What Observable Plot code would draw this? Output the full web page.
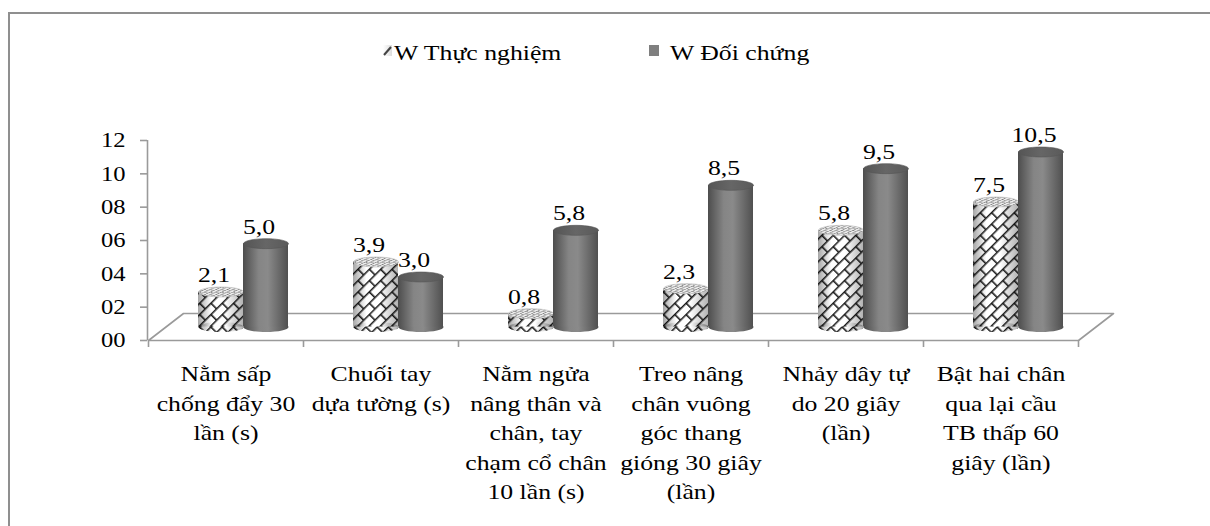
<!DOCTYPE html>
<html>
<head>
<meta charset="utf-8">
<script src="https://cdn.jsdelivr.net/npm/d3@7"></script>
<script src="https://cdn.jsdelivr.net/npm/@observablehq/plot@0.6"></script>
<style>
  html, body { margin: 0; padding: 0; background: #fff; }
  #wrap { position: relative; width: 1210px; height: 526px; overflow: hidden; font-family: 'Liberation Serif', serif; }
  #frame { position: absolute; left: 8px; top: 12px; width: 1400px; height: 700px; border-top: 2px solid #8f8f8f; border-left: 2px solid #8f8f8f; }
  #wrap svg { position: absolute; left: 0; top: 0; background: none; }
</style>
</head>
<body>
<div id="wrap"><div id="frame"></div></div>
<script>
// ---- data ----
const categories = [
  "Nằm sấp\nchống đẩy 30\nlần (s)",
  "Chuối tay\ndựa tường (s)",
  "Nằm ngửa\nnâng thân và\nchân, tay\nchạm cổ chân\n10 lần (s)",
  "Treo nâng\nchân vuông\ngóc thang\ngióng 30 giây\n(lần)",
  "Nhảy dây tự\ndo 20 giây\n(lần)",
  "Bật hai chân\nqua lại cầu\nTB thấp 60\ngiây (lần)"
];
const thucNghiem = [2.1, 3.9, 0.8, 2.3, 5.8, 7.5];
const doiChung = [5.0, 3.0, 5.8, 8.5, 9.5, 10.5];
const seriesNames = ["W Thực nghiệm", "W Đối chứng"];
const yTicks = [0, 2, 4, 6, 8, 10, 12];

// ---- layout constants ----
const X0 = 148, X1 = 1078, Y0 = 340, Y1 = 140;
const depth = [35, -27];
const half = [depth[0] / 2, depth[1] / 2];
const barPx = 45;
const textScale = 1.17;
const FONT = "Liberation Serif";

const xs = Plot.scale({x: {domain: [0, categories.length], range: [X0, X1]}});
const ys = Plot.scale({y: {domain: [0, 12], range: [Y0, Y1]}});
const barW = xs.invert(X0 + barPx) - 0;
const depthX = xs.invert(X0 + depth[0]) - 0;
const depthY = ys.invert(Y0 + depth[1]) - 0;

const rowsTN = categories.map((c, i) => ({i, c, v: thucNghiem[i]}));
const rowsDC = categories.map((c, i) => ({i, c, v: doiChung[i]}));
const fmt = v => v.toFixed(1).replace(".", ",");

const floor = [[0, 0], [categories.length, 0], [categories.length + depthX, depthY], [depthX, depthY], [0, 0]];

const ellipse = ry => ({
  draw(context, size) {
    const rx = Math.sqrt(size / Math.PI), k = 0.5523;
    context.moveTo(-rx, 0);
    context.bezierCurveTo(-rx, -ry * k, -rx * k, -ry, 0, -ry);
    context.bezierCurveTo(rx * k, -ry, rx, -ry * k, rx, 0);
    context.bezierCurveTo(rx, ry * k, rx * k, ry, 0, ry);
    context.bezierCurveTo(-rx * k, ry, -rx, ry * k, -rx, 0);
    context.closePath();
  }
});
const ell = ellipse(5);

function cylinder(rows, x1f, x2f, bodyFill, topFill, overlay) {
  const xc = d => (x1f(d) + x2f(d)) / 2;
  const common = {dx: half[0], dy: half[1]};
  const marks = [
    Plot.dot(rows, {x: xc, y: 0, r: barPx / 2, symbol: ell, fill: bodyFill, stroke: null, ...common}),
    Plot.rect(rows, {x1: x1f, x2: x2f, y1: 0, y2: d => d.v, fill: bodyFill, ...common})
  ];
  if (overlay) {
    marks.push(Plot.dot(rows, {x: xc, y: 0, r: barPx / 2, symbol: ell, fill: overlay, stroke: null, ...common}));
    marks.push(Plot.rect(rows, {x1: x1f, x2: x2f, y1: 0, y2: d => d.v, fill: overlay, ...common}));
  }
  marks.push(Plot.dot(rows, {x: xc, y: d => d.v, r: barPx / 2, symbol: ell, fill: topFill, stroke: overlay ? "#bbb" : "#555", strokeWidth: 0.6, ...common}));
  return marks;
}

const txt = {fontFamily: FONT, fill: "black"};

const chart = Plot.plot({
  width: 1210,
  height: 526,
  marginLeft: X0,
  marginRight: 1210 - X1,
  marginTop: Y1,
  marginBottom: 526 - Y0,
  style: {background: "none", overflow: "visible"},
  x: {domain: [0, categories.length], axis: null},
  y: {domain: [0, 12], axis: null},
  marks: [
    Plot.line(floor, {x: d => d[0], y: d => d[1], stroke: "#9a9a9a", strokeWidth: 1.6}),
    Plot.ruleX([0], {y1: 0, y2: 12, stroke: "#9a9a9a", strokeWidth: 1.6, dx: -1}),
    Plot.ruleY(yTicks, {x1: 0, x2: xs.invert(X0 - 7), stroke: "#9a9a9a", strokeWidth: 1.6, dx: -1}),
    Plot.text(yTicks, {x: 0, y: d => d, text: d => String(d).padStart(2, "0"), textAnchor: "end", dx: -23, fontSize: 21, ...txt}),
    Plot.ruleX(d3.range(categories.length + 1), {y1: 0, y2: ys.invert(Y0 + 7), stroke: "#9a9a9a", strokeWidth: 1.6}),
    Plot.text(categories.map((c, i) => ({c, i})), {x: d => d.i + 0.5, y: 0, text: d => d.c, lineAnchor: "top", lineHeight: 1.34, dy: 20, fontSize: 22, ...txt}),
    ...cylinder(rowsTN, d => d.i + 0.5 - barW, d => d.i + 0.5, "url(#hatch)", "url(#hatchTop)", "url(#shade)"),
    ...cylinder(rowsDC, d => d.i + 0.5, d => d.i + 0.5 + barW, "url(#grayBody)", "url(#grayTop)", null),
    Plot.text(rowsTN, {x: d => d.i + 0.5 - barW / 2, y: d => d.v, text: d => fmt(d.v), lineAnchor: "bottom", dx: half[0] - 7, dy: half[1] - 10, fontSize: 22, ...txt}),
    Plot.text(rowsDC, {x: d => d.i + 0.5 + barW / 2, y: d => d.v, text: d => fmt(d.v), lineAnchor: "bottom", dx: half[0] - 7, dy: half[1] - 10, fontSize: 22, ...txt})
  ]
});

const svg = d3.select(chart);
svg.attr("font-family", FONT);
const defs = svg.insert("defs", ":first-child");

const hp = defs.append("pattern").attr("id", "hatch").attr("patternUnits", "userSpaceOnUse")
  .attr("width", 16).attr("height", 16).attr("patternTransform", "rotate(-45)");
hp.append("rect").attr("width", 16).attr("height", 16).attr("fill", "#fff");
hp.append("path").attr("d", "M0,0.8H16 M0,8.8H16 M0.8,0V8 M8.8,8V16").attr("stroke", "#1a1a1a").attr("stroke-width", 1.6).attr("fill", "none");

const ht = defs.append("pattern").attr("id", "hatchTop").attr("patternUnits", "userSpaceOnUse")
  .attr("width", 8).attr("height", 8).attr("patternTransform", "scale(1,0.45) rotate(-45)");
ht.append("rect").attr("width", 8).attr("height", 8).attr("fill", "#eeeeee");
ht.append("path").attr("d", "M0,0.5H8 M0,4.5H8 M0.5,0V4 M4.5,4V8").attr("stroke", "#777").attr("stroke-width", 1).attr("fill", "none");

const grad = (id, stops) => {
  const g = defs.append("linearGradient").attr("id", id).attr("x1", 0).attr("x2", 1).attr("y1", 0).attr("y2", 0);
  stops.forEach(([o, c, a]) => g.append("stop").attr("offset", o).attr("stop-color", c).attr("stop-opacity", a ?? 1));
};
grad("grayBody", [["0%", "#4d4d4d"], ["35%", "#858585"], ["55%", "#8a8a8a"], ["100%", "#505050"]]);
grad("grayTop", [["0%", "#555"], ["50%", "#666"], ["100%", "#5a5a5a"]]);
grad("shade", [["0%", "#000", 0.35], ["30%", "#000", 0], ["60%", "#000", 0], ["100%", "#000", 0.3]]);
grad("iconGrad", [["0%", "#fff"], ["100%", "#ddd"]]);

// the original's text is stretched horizontally
svg.selectAll("text").each(function () {
  const t = this.getAttribute("transform") || "";
  this.setAttribute("transform", t + ` scale(${textScale},1)`);
});

const lg = svg.append("g").attr("font-size", 22).attr("fill", "black").attr("text-anchor", "start").attr("font-family", FONT);
lg.append("rect").attr("x", 383).attr("y", 45).attr("width", 9).attr("height", 11).attr("fill", "url(#iconGrad)");
lg.append("path").attr("d", "M384,55 L391,47").attr("stroke", "#444").attr("stroke-width", 2);
lg.append("text").attr("transform", `translate(394,60) scale(${textScale},1)`).text(seriesNames[0]);
lg.append("rect").attr("x", 649).attr("y", 45).attr("width", 10).attr("height", 11).attr("fill", "#7f7f7f");
lg.append("text").attr("transform", `translate(670,60) scale(${textScale},1)`).text(seriesNames[1]);

document.getElementById("wrap").appendChild(chart);
</script>
</body>
</html>
